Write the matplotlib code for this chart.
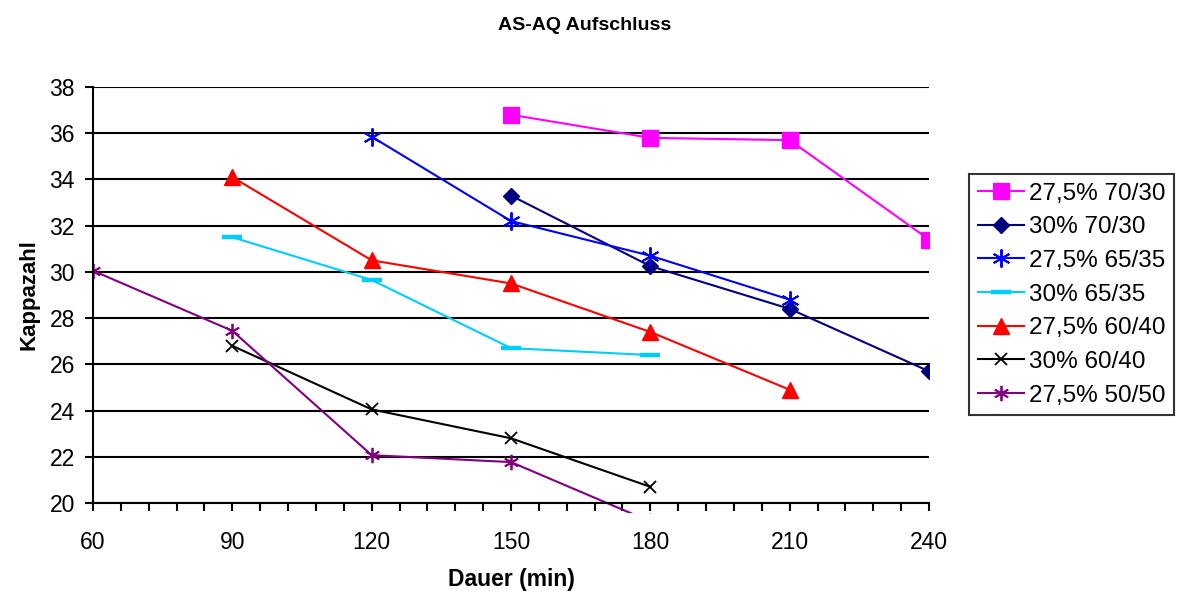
import matplotlib
matplotlib.use("Agg")
import matplotlib.pyplot as plt
import matplotlib.patches as mpatches
import numpy as np

plt.rcParams['font.family'] = ['Liberation Sans', 'DejaVu Sans']

labels = ["27,5% 70/30", "30% 70/30", "27,5% 65/35", "30% 65/35",
          "27,5% 60/40", "30% 60/40", "27,5% 50/50"]
x_pink = [150, 180, 210, 240]
y_pink = [36.8, 35.8, 35.7, 31.4]
x_navy = [150, 180, 210, 240]
y_navy = [33.3, 30.25, 28.4, 25.7]
x_blue = [120, 150, 180, 210]
y_blue = [35.85, 32.2, 30.7, 28.8]
x_cyan = [90, 120, 150, 180]
y_cyan = [31.5, 29.65, 26.7, 26.4]
x_red = [90, 120, 150, 180, 210]
y_red = [34.1, 30.5, 29.5, 27.4, 24.9]
x_black = [90, 120, 150, 180]
y_black = [26.8, 24.05, 22.8, 20.7]
x_purple = [60, 90, 120, 150, 180]
y_purple = [30.05, 27.45, 22.07, 21.77, 19.2]

fig = plt.figure(figsize=(11.77, 5.93), dpi=100)
ax = fig.add_axes([93/1177, 1-503/593, (929-93)/1177, (503-87)/593])

lw = 1.5
lines = []
lines += ax.plot(x_pink, y_pink, color='#FF00FF', marker='s', ms=11, lw=lw, label=labels[0])
lines += ax.plot(x_navy, y_navy, color='#000080', marker='D', ms=8, lw=lw, label=labels[1])
lines += ax.plot(x_blue, y_blue, color='#0000FF', marker=(6, 2, 0), ms=13, mew=1.4, lw=lw, label=labels[2])
lines += ax.plot(x_cyan, y_cyan, color='#00CCFF', marker='_', ms=15, mew=3.2, lw=lw, label=labels[3])
lines += ax.plot(x_red, y_red, color='#FF0000', marker='^', ms=12, lw=lw, label=labels[4])
lines += ax.plot(x_black, y_black, color='#000000', marker='x', ms=9, mew=1.3, lw=lw, label=labels[5])
lines += ax.plot(x_purple, y_purple, color='#800080', marker=(6, 2, 0), ms=11, mew=1.3, lw=lw, label=labels[6])

clip = mpatches.Rectangle((0, -0.025), 1, 1.05, transform=ax.transAxes, visible=False)
ax.add_patch(clip)
for ln in lines:
    ln.set_clip_path(clip)

ax.set_xlim(60, 240)
ax.set_ylim(20, 38)
ax.set_xticks(np.arange(60, 241, 30))
ax.set_xticks(np.arange(60, 241, 6), minor=True)
ax.set_yticks(np.arange(20, 39, 2))
ax.yaxis.grid(True, color='black', lw=1.5)
ax.set_axisbelow(True)
for s in ['top', 'right']:
    ax.spines[s].set_visible(False)
ax.spines['left'].set_linewidth(1.5)
ax.spines['bottom'].set_linewidth(1.5)
ax.tick_params(axis='both', which='major', labelsize=16.5, direction='out', length=6, width=1.5)
ax.tick_params(axis='y', which='major', pad=7)
ax.tick_params(axis='x', which='major', pad=14)
ax.tick_params(axis='x', which='minor', direction='out', length=6, width=1.5)

ax.set_xlabel("Dauer (min)", fontsize=16.5, fontweight='bold', labelpad=10)
ax.set_ylabel("Kappazahl", fontsize=16, fontweight='bold', labelpad=7)
fig.text(585/1177, 1-25/593, "AS-AQ Aufschluss", ha='center', va='center', fontsize=14, fontweight='bold')

leg = fig.legend(loc='upper left', bbox_to_anchor=(969/1177, 1-174/593), fontsize=17.5,
                 frameon=True, fancybox=False, edgecolor='black', borderpad=0.35,
                 handlelength=1.9, handletextpad=0.2, labelspacing=0.48, borderaxespad=0)
leg.get_frame().set_linewidth(1.5)

fig.savefig("out.png", dpi=100)
